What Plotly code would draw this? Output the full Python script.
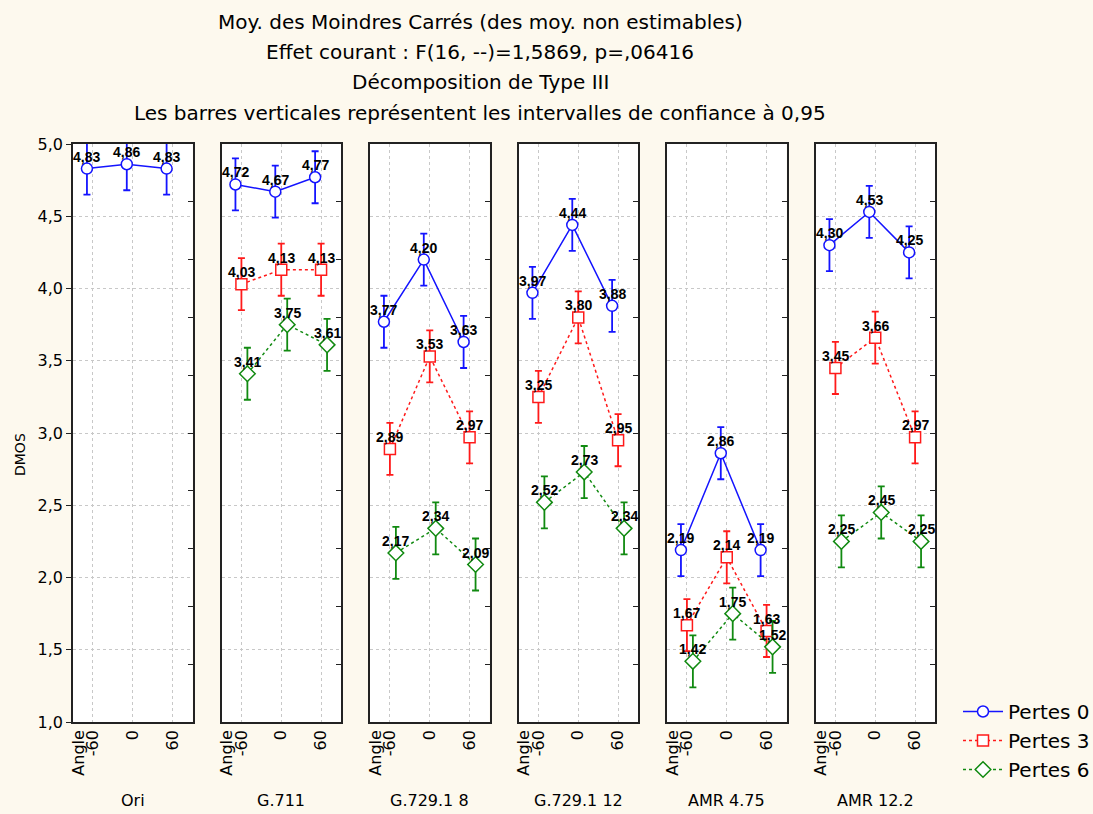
import plotly.graph_objects as go

# ---------------- data ----------------
PANELS = ["Ori", "G.711", "G.729.1 8", "G.729.1 12", "AMR 4.75", "AMR 12.2"]
ANGLES = [-60, 0, 60]
ANGLE_LABELS = ["-60", "0", "60"]
SERIES = ["Pertes 0", "Pertes 3", "Pertes 6"]

pertes0 = [
    [4.83, 4.86, 4.83],
    [4.72, 4.67, 4.77],
    [3.77, 4.20, 3.63],
    [3.97, 4.44, 3.88],
    [2.19, 2.86, 2.19],
    [4.30, 4.53, 4.25],
]
pertes3 = [
    None,
    [4.03, 4.13, 4.13],
    [2.89, 3.53, 2.97],
    [3.25, 3.80, 2.95],
    [1.67, 2.14, 1.63],
    [3.45, 3.66, 2.97],
]
pertes6 = [
    None,
    [3.41, 3.75, 3.61],
    [2.17, 2.34, 2.09],
    [2.52, 2.73, 2.34],
    [1.42, 1.75, 1.52],
    [2.25, 2.45, 2.25],
]
ci_half = 0.18  # half-width of the 0.95 confidence interval

TITLE_LINES = [
    "Moy. des Moindres Carrés (des moy. non estimables)",
    "Effet courant : F(16, --)=1,5869, p=,06416",
    "Décomposition de Type III",
    "Les barres verticales représentent les intervalles de confiance à 0,95",
]

# ---------------- style ----------------
FONT = "DejaVu Sans, Verdana, sans-serif"
LABEL_FONT = "Liberation Sans, Arial, sans-serif"
BG = "#fdf9ee"
STYLES = {
    "Pertes 0": dict(color="#1414ff", dash="solid", symbol="circle", dx=-9),
    "Pertes 3": dict(color="#ff1a1a", dash="3px,3px", symbol="square", dx=0),
    "Pertes 6": dict(color="#118a11", dash="dot", symbol="diamond", dx=9),
}

W, H = 1093, 814
L, R, T, B = 73, 158, 144, 92
PW = W - L - R
PH = H - T - B
panel_w = 119.5
panel_step = (PW - panel_w) / 5.0

def px_x(p):
    return (p - L) / PW

def px_y(p):
    return (H - B - p) / PH

fig = go.Figure()

def fmt(v):
    return "<b>" + f"{v:.2f}".replace(".", ",") + "</b>"

data_by_series = {"Pertes 0": pertes0, "Pertes 3": pertes3, "Pertes 6": pertes6}
annotations = []

for i, panel in enumerate(PANELS):
    xa = "x" if i == 0 else f"x{i+1}"
    ya = "y" if i == 0 else f"y{i+1}"
    for s in SERIES:
        vals = data_by_series[s][i]
        if vals is None:
            continue
        st = STYLES[s]
        xs = [a + st["dx"] for a in ANGLES]
        fig.add_trace(go.Scatter(
            x=xs,
            y=vals,
            xaxis=xa, yaxis=ya,
            mode="lines+markers",
            name=s,
            legendgroup=s,
            showlegend=(i == 1),
            line=dict(color=st["color"], width=1.5, dash=st["dash"]),
            marker=dict(symbol=st["symbol"], size=11 if st["symbol"] != "diamond" else 12,
                        color="white", line=dict(color=st["color"], width=1.5)),
            error_y=dict(type="constant", value=ci_half, color=st["color"],
                         thickness=1.8, width=3.5),
            cliponaxis=True,
            hoverinfo="x+y",
        ))
        for xv, yv in zip(xs, vals):
            annotations.append(dict(
                xref=xa, yref=ya, x=xv, y=yv, text=fmt(yv), showarrow=False,
                xanchor="center", yanchor="middle", yshift=12,
                font=dict(family=LABEL_FONT, size=14, color="black"),
            ))
    # dummy trace for right-side tick axis
    fig.add_trace(go.Scatter(x=[None], y=[None], xaxis=xa, yaxis=f"y{i+7}",
                             showlegend=False, hoverinfo="skip"))

layout = dict(
    width=W, height=H,
    margin=dict(l=L, r=R, t=T, b=B, autoexpand=False),
    paper_bgcolor=BG, plot_bgcolor="white",
    separators=", ",
    font=dict(family=FONT, size=16, color="black"),
    showlegend=True,
    legend=dict(x=px_x(958), y=px_y(692), xanchor="left", yanchor="top",
                bgcolor="rgba(0,0,0,0)", font=dict(family=FONT, size=20),
                tracegroupgap=0, itemwidth=40),
)

for i, panel in enumerate(PANELS):
    left = L + i * panel_step
    d0 = (left - L) / PW
    d1 = (left + panel_w - L) / PW
    xkey = "xaxis" if i == 0 else f"xaxis{i+1}"
    ykey = "yaxis" if i == 0 else f"yaxis{i+1}"
    ya_ref = "y" if i == 0 else f"y{i+1}"
    xa_ref = "x" if i == 0 else f"x{i+1}"
    layout[xkey] = dict(
        domain=[d0, d1], anchor=ya_ref, range=[-90, 90],
        tickmode="array", tickvals=[-82] + ANGLES, ticktext=["Angle"] + ANGLE_LABELS,
        tickangle=-90, ticks="", showgrid=False, zeroline=False,
        tickfont=dict(family=FONT, size=16),
        showline=True, mirror=True, linecolor="#222", linewidth=1.5,
        minor=dict(tickmode="array", tickvals=ANGLES, showgrid=True,
                   gridcolor="#c8c8c8", griddash="dot", gridwidth=1, ticks=""),
        fixedrange=True,
    )
    layout[ykey] = dict(
        domain=[0, 1], anchor=xa_ref, range=[1, 5],
        tick0=1, dtick=0.5, tickformat=".1f",
        showticklabels=(i == 0), ticks="outside" if i == 0 else "", ticklen=5,
        tickcolor="#222",
        showgrid=True, gridcolor="#c8c8c8", griddash="dot", gridwidth=1,
        zeroline=False, showline=True, mirror=True, linecolor="#222", linewidth=1.5,
        tickfont=dict(family=FONT, size=16), fixedrange=True,
    )
    layout[f"yaxis{i+7}"] = dict(
        overlaying=ya_ref, anchor=xa_ref, side="right", range=[1, 5],
        tick0=1, dtick=0.4, ticks="inside", ticklen=5, tickcolor="#222",
        showticklabels=False, showgrid=False, zeroline=False, showline=False,
        fixedrange=True,
    )
    annotations.append(dict(
        xref="paper", yref="paper", x=(d0 + d1) / 2, y=px_y(800),
        text=panel, showarrow=False, xanchor="center", yanchor="middle",
        font=dict(family=FONT, size=16),
    ))

title_y = [21.7, 51.7, 81.7, 113]
for line, yy in zip(TITLE_LINES, title_y):
    annotations.append(dict(
        xref="paper", yref="paper", x=px_x(480), y=px_y(yy),
        text=line, showarrow=False, xanchor="center", yanchor="middle",
        font=dict(family=FONT, size=20),
    ))

annotations.append(dict(
    xref="paper", yref="paper", x=px_x(20), y=px_y(455),
    text="DMOS", showarrow=False, textangle=-90,
    xanchor="center", yanchor="middle", font=dict(family=FONT, size=14),
))

layout["annotations"] = annotations
fig.update_layout(**layout)

fig.write_html(
    "out.html",
    config={"displayModeBar": False},
    post_script="document.body.style.margin='0';document.body.style.background='" + BG + "';",
)
